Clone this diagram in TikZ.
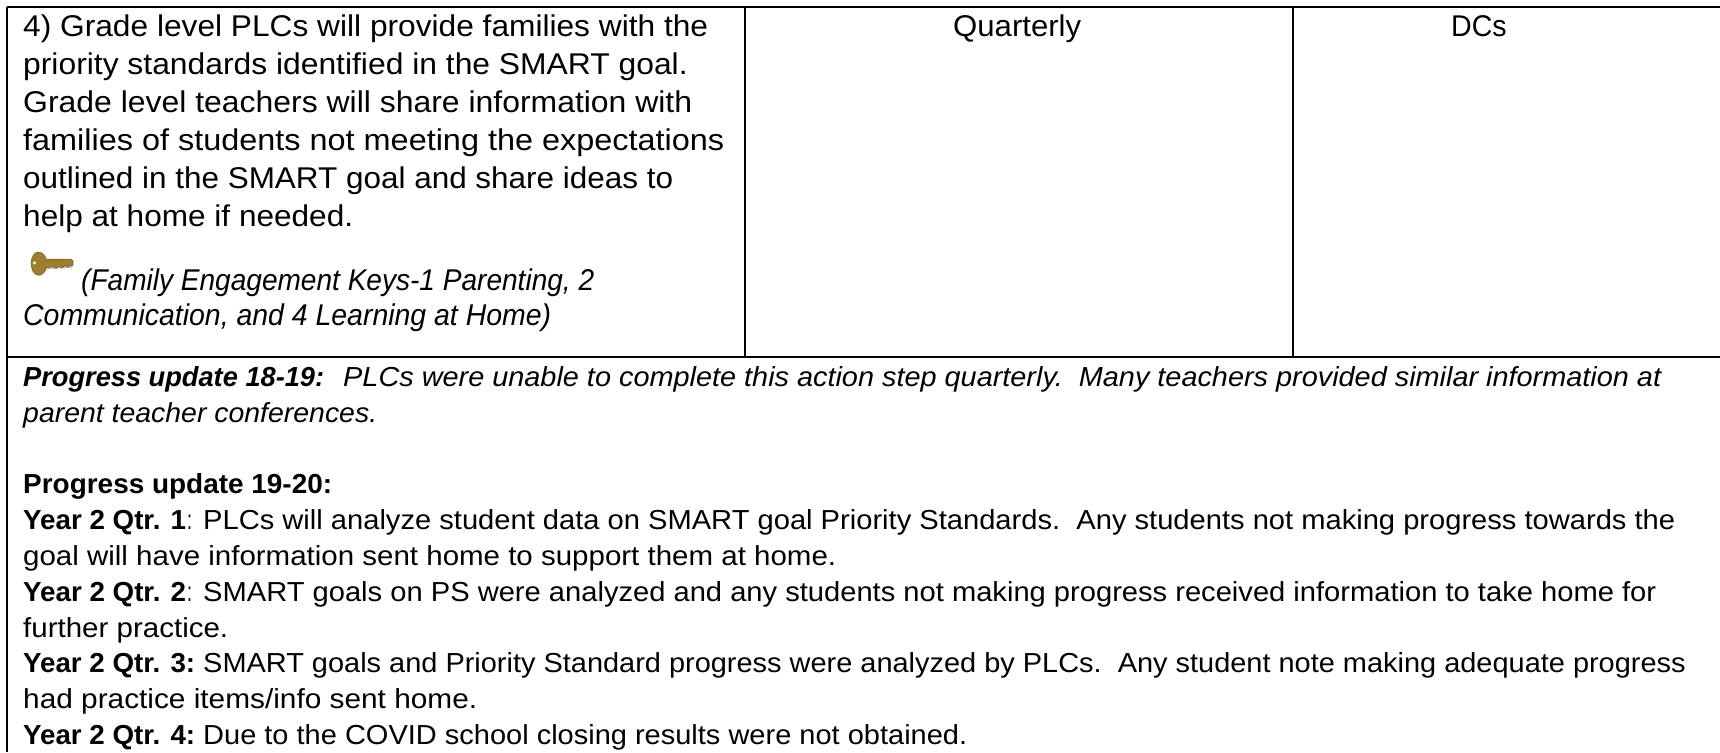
\documentclass[tikz,border=0pt]{standalone}
\usepackage{fontspec}
\setmainfont{Liberation Sans}
\newcommand{\fitline}[6]{%
  \pgfmathsetmacro{\fitw}{#4-#3}%
  \node[anchor=base west,inner sep=0pt] (#1) at (#3,#2) {\fontsize{#5}{#5}\selectfont\resizebox{\fitw pt}{\height}{#6}};}
\definecolor{keygold}{HTML}{9C7F2E}
\definecolor{keydark}{HTML}{6E5A20}
\tikzset{
  rule/.style={draw=black,line width=2pt},
  keybody/.style={fill=keygold,draw=keydark,line width=0.5pt},
}
\begin{document}
\begin{tikzpicture}[x=1pt,y=-1pt]
\useasboundingbox (0,0) rectangle (1720,752);
\fill[white] (0,0) rectangle (1720,752);
\coordinate (tl) at (6.7,6.7); \coordinate (tr) at (1720,6.7);
\coordinate (bl) at (6.7,752); \coordinate (ml) at (6.7,356.5); \coordinate (mr) at (1720,356.5);
\coordinate (c1t) at (745,6.7); \coordinate (c1b) at (745,356.5);
\coordinate (c2t) at (1293,6.7); \coordinate (c2b) at (1293,356.5);
\draw[rule] (tl)--(tr); \draw[rule] (ml)--(mr); \draw[rule] (tl)--(bl);
\draw[rule] (c1t)--(c1b); \draw[rule] (c2t)--(c2b);
% top left cell
\fitline{a1}{36.5}{23}{708}{30}{4) Grade level PLCs will provide families with the}
\fitline{a2}{74.5}{23}{687.5}{30}{priority standards identified in the SMART goal.}
\fitline{a3}{112.5}{23}{692}{30}{Grade level teachers will share information with}
\fitline{a4}{150.5}{23}{724}{30}{families of students not meeting the expectations}
\fitline{a5}{188.5}{23}{673}{30}{outlined in the SMART goal and share ideas to}
\fitline{a6}{226.5}{23}{353}{30}{help at home if needed.}
% key
\fill[black!25] (32,265) .. controls (32,258) and (36,253) .. (39,253) .. controls (43,253) and (46,256) .. (47,260)
  -- (73,260) -- (74,265) -- (71,268) -- (47,269) .. controls (45,273) and (42,276) .. (39,276) .. controls (35,276) and (32,271) .. (32,265) -- cycle;
\path[keybody] (31,263) .. controls (31,257) and (35,252) .. (38,252) .. controls (42,252) and (45,255) .. (46,259)
  -- (71,259) -- (73,261) -- (72,266) -- (69,265.5) -- (68,267) -- (65,265.5) -- (62,268) -- (59,266) -- (56,268.5) -- (53,266.5) -- (46,268)
  .. controls (45,272) and (42,275) .. (38,275) .. controls (34,275) and (31,269) .. (31,263) -- cycle;
\fill[white] (34.5,263) circle (1.6);
\fitline{a7}{290}{81}{594}{30}{\itshape (Family Engagement Keys-1 Parenting, 2}
\fitline{a8}{325}{23}{551}{30}{\itshape Communication, and 4 Learning at Home)}
% other cells
\fitline{q}{36.5}{953}{1081}{30}{Quarterly}
\fitline{d}{36.5}{1451}{1506.5}{30}{DCs}
% bottom block
\fitline{b1a}{386}{23}{324}{27.5}{\bfseries\itshape Progress update 18-19:}
\fitline{b1b}{386}{343}{1661}{27.5}{\itshape PLCs were unable to complete this action step quarterly.\ \ Many teachers provided similar information at}
\fitline{b2}{422}{23}{377}{27.5}{\itshape parent teacher conferences.}
\fitline{b3}{493.5}{23}{332}{27.5}{\bfseries Progress update 19-20:}
\fitline{b4a}{529}{23}{186}{27.5}{\bfseries Year 2 Qtr. 1}
\fitline{b4c}{529}{187}{192}{27.5}{:}
\fitline{b4b}{529}{203}{1675}{27.5}{PLCs will analyze student data on SMART goal Priority Standards.\ \ Any students not making progress towards the}
\fitline{b5}{565}{23}{836}{27.5}{goal will have information sent home to support them at home.}
\fitline{b6a}{601}{23}{186}{27.5}{\bfseries Year 2 Qtr. 2}
\fitline{b6c}{601}{187}{192}{27.5}{:}
\fitline{b6b}{601}{203}{1656}{27.5}{SMART goals on PS were analyzed and any students not making progress received information to take home for}
\fitline{b7}{637}{23}{228}{27.5}{further practice.}
\fitline{b8a}{672.5}{23}{195}{27.5}{\bfseries Year 2 Qtr. 3:}
\fitline{b8b}{672.5}{203}{1685.5}{27.5}{SMART goals and Priority Standard progress were analyzed by PLCs.\ \ Any student note making adequate progress}
\fitline{b9}{708.5}{23}{477}{27.5}{had practice items/info sent home.}
\fitline{b10a}{744.5}{23}{195}{27.5}{\bfseries Year 2 Qtr. 4:}
\fitline{b10b}{744.5}{203}{967}{27.5}{Due to the COVID school closing results were not obtained.}
\end{tikzpicture}
\end{document}
